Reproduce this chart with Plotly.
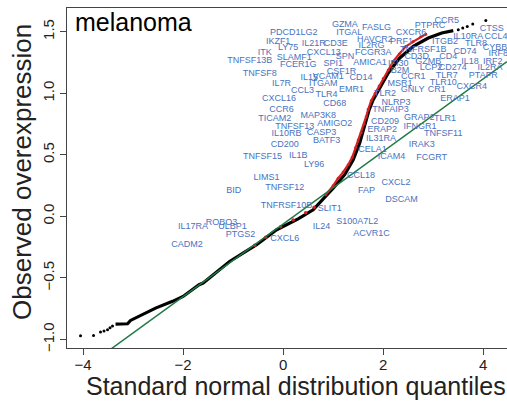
import plotly.graph_objects as go

# Q-Q plot of observed overexpression scores (melanoma)
# Dense central part of the sorted scores vs. standard normal quantiles
curve_q = [-3.35, -3.2, -3.11, -3.05, -2.81, -2.55, -2.21, -2.0, -1.68, -1.6, -1.07,
           -0.53, -0.13, 0.0, 0.3, 0.6, 0.73, 1.0, 1.23, 1.4, 1.53, 1.67, 1.72, 1.8,
           1.93, 2.1, 2.33, 2.6, 2.9, 3.17, 3.4]
curve_obs = [-0.875, -0.875, -0.872, -0.845, -0.80, -0.745, -0.69, -0.65, -0.555, -0.541,
             -0.366, -0.23, -0.108, -0.08, -0.02, 0.054, 0.109, 0.23, 0.339, 0.46, 0.596,
             0.786, 0.867, 0.948, 1.043, 1.165, 1.287, 1.381, 1.449, 1.49, 1.509]

# Sparse tail points
tail_q = [-4.05, -3.79, -3.65, -3.58, -3.51, -3.46, -3.41, 3.5, 3.59, 3.68, 3.79, 4.05]
tail_obs = [-0.97, -0.967, -0.94, -0.93, -0.92, -0.905, -0.89, 1.517, 1.53, 1.543, 1.563, 1.592]

# Immune genes (highlighted in red)
immune_sparse_q = [-0.57, -0.35, -0.05, 0.2, 0.45, 0.62]
immune_sparse_obs = [-0.235, -0.17, -0.085, -0.03, 0.03, 0.075]
immune_q = [0.85, 1.0, 1.1, 1.2, 1.3, 1.38, 1.45, 1.5, 1.56, 1.62, 1.66, 1.7, 1.76, 1.84,
            1.92, 2.0, 2.1, 2.2, 2.32, 2.45, 2.6, 2.75, 2.85]
immune_obs = [0.175, 0.25, 0.31, 0.36, 0.42, 0.48, 0.56, 0.62, 0.68, 0.75, 0.81, 0.87, 0.94,
              1.00, 1.06, 1.12, 1.19, 1.26, 1.32, 1.38, 1.42, 1.46, 1.48]

# Reference line (through the quartiles)
line_intercept = -0.062
line_slope = 0.295

# Gene labels: name, x (quantile), y (score)
gene_labels = [
    ("CCR5", 3.268, 1.592), ("GZMA", 1.234, 1.557), ("FASLG", 1.868, 1.530),
    ("PTPRC", 2.934, 1.549), ("CXCR6", 2.554, 1.490), ("CTSS", 4.168, 1.525),
    ("ITGAL", 1.32, 1.490), ("HAVCR2", 1.834, 1.435), ("PDCD1LG2", 0.214, 1.490),
    ("IL10RA", 3.70, 1.457), ("CCL4", 4.254, 1.457), ("IKZF1", -0.10, 1.417),
    ("IL21R", 0.614, 1.400), ("CD3E", 1.054, 1.400), ("IL2RG", 1.768, 1.387),
    ("PRF1", 2.368, 1.417), ("ITGB2", 3.234, 1.417), ("TLR8", 3.854, 1.403),
    ("LY75", 0.10, 1.368), ("CYBB", 4.234, 1.373), ("ITK", -0.366, 1.332),
    ("SLAMF1", 0.22, 1.287), ("CXCL13", 0.814, 1.327), ("FCGR3A", 1.80, 1.327),
    ("TNFRSF1B", 2.80, 1.354), ("CD74", 3.634, 1.336), ("IRF8", 4.30, 1.319),
    ("TNFSF13B", -0.666, 1.265), ("SPN", 1.234, 1.295), ("CD3D", 2.668, 1.295),
    ("GZMB", 2.90, 1.259), ("CD4", 3.30, 1.295), ("IL18", 3.734, 1.259),
    ("IRF2", 4.188, 1.259), ("FCER1G", 0.30, 1.232), ("SPI1", 1.0, 1.240),
    ("AMICA1", 1.734, 1.246), ("IFI30", 2.30, 1.240), ("LCP2", 2.954, 1.206),
    ("CD274", 3.388, 1.206), ("IL2RA", 4.134, 1.206), ("B2M", 2.334, 1.184),
    ("TNFSF8", -0.466, 1.160), ("CSF1R", 1.168, 1.178), ("IL15", 0.52, 1.124),
    ("VCAM1", 0.90, 1.132), ("CD14", 1.554, 1.124), ("CCR1", 2.60, 1.132),
    ("TLR7", 3.268, 1.145), ("PTAFR", 4.0, 1.145), ("IL7R", -0.032, 1.078),
    ("ITGAM", 0.80, 1.078), ("MSR1", 2.334, 1.078), ("TLR10", 3.20, 1.089),
    ("CCL3", 0.388, 1.024), ("TLR4", 0.868, 0.989), ("EMR1", 1.368, 1.029),
    ("GNLY", 2.588, 1.029), ("CR1", 3.068, 1.029), ("CXCR4", 3.768, 1.051),
    ("TLR2", 2.034, 0.994), ("CXCL16", -0.08, 0.956), ("ERAP1", 3.434, 0.956),
    ("CD68", 1.034, 0.916), ("NLRP3", 2.254, 0.926), ("CCR6", -0.032, 0.867),
    ("TNFAIP3", 2.148, 0.867), ("TICAM2", -0.166, 0.794), ("MAP3K8", 0.70, 0.820),
    ("GRAP2", 2.72, 0.799), ("TLR1", 3.234, 0.791), ("CD209", 2.034, 0.772),
    ("TNFSF13", 0.234, 0.726), ("AMIGO2", 1.034, 0.751), ("IFNGR1", 2.734, 0.731),
    ("IL10RB", 0.068, 0.672), ("CASP3", 0.768, 0.682), ("ERAP2", 1.98, 0.704),
    ("TNFSF11", 3.20, 0.669), ("BATF3", 0.868, 0.615), ("IL31RA", 1.954, 0.629),
    ("IRAK3", 2.768, 0.582), ("CD200", 0.034, 0.582), ("CELA1", 1.788, 0.542),
    ("TNFSF15", -0.412, 0.487), ("IL1B", 0.30, 0.493), ("ICAM4", 2.168, 0.483),
    ("FCGRT", 2.968, 0.474), ("LY96", 0.62, 0.420), ("CCL18", 1.554, 0.331),
    ("LIMS1", -0.332, 0.312), ("CXCL2", 2.254, 0.276), ("BID", -0.986, 0.209),
    ("TNFSF12", 0.034, 0.231), ("FAP", 1.668, 0.211), ("DSCAM", 2.368, 0.136),
    ("TNFRSF10B", 0.068, 0.087), ("SLIT1", 0.934, 0.063), ("IL24", 0.768, -0.086),
    ("S100A7L2", 1.48, -0.045), ("ACVR1C", 1.768, -0.141), ("IL17RA", -1.80, -0.086),
    ("ROBO3", -1.232, -0.049), ("ULBP1", -1.012, -0.086), ("PTGS2", -0.852, -0.149),
    ("CADM2", -1.92, -0.230), ("CXCL6", 0.034, -0.184),
]

x_ticks = [-4, -2, 0, 2, 4]
y_ticks = [-1.0, -0.5, 0.0, 0.5, 1.0, 1.5]
x_range = [-4.32, 4.474]
y_range = [-1.069, 1.693]

FONT = "Liberation Sans, Arial, sans-serif"
LABEL_BLUE = "#4773bf"

fig = go.Figure()

fig.add_trace(go.Scatter(x=curve_q, y=curve_obs, mode="lines",
                         line=dict(color="black", width=3.2), hoverinfo="skip"))
fig.add_trace(go.Scatter(x=tail_q, y=tail_obs, mode="markers",
                         marker=dict(color="black", size=3), hoverinfo="skip"))
fig.add_trace(go.Scatter(x=immune_sparse_q, y=immune_sparse_obs, mode="markers",
                         marker=dict(color="#d62020", size=3.5), hoverinfo="skip"))
fig.add_trace(go.Scatter(x=immune_q, y=immune_obs, mode="lines+markers",
                         line=dict(color="#d62020", width=2.2),
                         marker=dict(color="#d62020", size=3), hoverinfo="skip"))

line_x = [x_range[0], x_range[1]]
line_y = [line_intercept + line_slope * v for v in line_x]
fig.add_trace(go.Scatter(x=line_x, y=line_y, mode="lines",
                         line=dict(color="#1f7a45", width=1.5), hoverinfo="skip"))

fig.add_trace(go.Scatter(
    x=[g[1] for g in gene_labels], y=[g[2] for g in gene_labels],
    text=[g[0] for g in gene_labels], mode="text",
    textfont=dict(family=FONT, size=9, color=LABEL_BLUE),
    textposition="middle center", hoverinfo="skip"))

# plot area in pixels: x 67..507, y 8..348
L, R, T, B = 67, 507, 8, 348
W, H = R - L, B - T


def px(xp):
    return (xp - L) / W


def py(yp):
    return (B - yp) / H


annotations = [
    dict(text="melanoma", x=px(73), y=py(22), xref="paper", yref="paper",
         xanchor="left", yanchor="middle", showarrow=False,
         font=dict(family=FONT, size=25, color="black")),
    dict(text="Standard normal distribution quantiles", x=px(296), y=py(386),
         xref="paper", yref="paper", xanchor="center", yanchor="middle",
         showarrow=False, font=dict(family=FONT, size=25, color="#222222")),
    dict(text="Observed overexpression", x=px(22), y=py(172), textangle=-90,
         xref="paper", yref="paper", xanchor="center", yanchor="middle",
         showarrow=False, font=dict(family=FONT, size=26, color="#222222")),
]

fig.update_layout(
    width=507, height=402,
    margin=dict(l=L, r=0, t=T, b=402 - B),
    paper_bgcolor="white", plot_bgcolor="white",
    showlegend=False,
    annotations=annotations,
    xaxis=dict(range=x_range, tickvals=x_ticks, ticktext=["\u22124", "\u22122", "0", "2", "4"],
               showgrid=False, zeroline=False, showline=True, mirror=True,
               linecolor="#444444", linewidth=1, ticks="outside", ticklen=6,
               ticklabelstandoff=-3,
               tickcolor="#444444", tickfont=dict(family=FONT, size=15, color="#222222")),
    yaxis=dict(range=y_range, tickvals=y_ticks,
               ticktext=["\u22121.0", "\u22120.5", "0.0", "0.5", "1.0", "1.5"],
               tickangle=-90, showgrid=False, zeroline=False, showline=True,
               linecolor="#444444", linewidth=1, ticks="outside", ticklen=6,
               tickcolor="#444444", tickfont=dict(family=FONT, size=15, color="#222222")),
)

fig.write_html("out.html")
